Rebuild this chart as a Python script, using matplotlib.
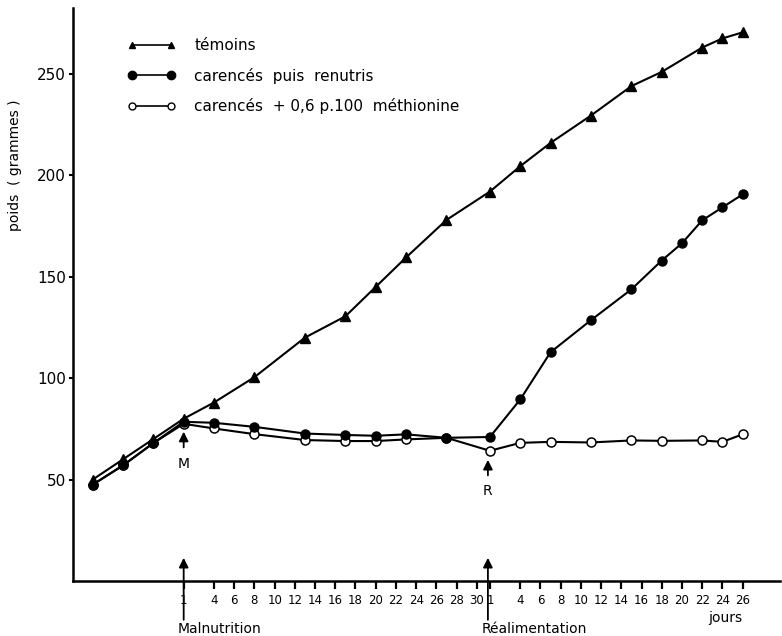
import matplotlib
matplotlib.use("Agg")
import matplotlib.pyplot as plt
from matplotlib.lines import Line2D

# days: before malnutrition, malnutrition period, refeeding period
pre_days = [-8, -5, -2]
mal_days = [1, 4, 8, 13, 17, 20, 23, 27]
ren_days_t = [1, 4, 7, 11, 15, 18, 22, 24, 26]
ren_days_c = [1, 4, 7, 11, 15, 18, 20, 22, 24, 26]
ren_days_m = [1, 4, 7, 11, 15, 18, 22, 24, 26]

# weights (grammes)
temoins_pre = [50, 60, 70]
temoins_mal = [80, 88, 100.5, 120, 130.5, 145, 159.5, 178]
temoins_ren = [192, 204.5, 216, 229.5, 244, 251, 263, 267.5, 270.5]

renutris_pre = [47.5, 57, 68]
renutris_mal = [78.5, 78, 76, 72.7, 72, 71.6, 72.3, 70.6]
renutris_ren = [71, 89.5, 112.8, 128.6, 143.8, 158, 166.5, 177.8, 184.2, 190.6]

methio_pre = [47.5, 57, 68]
methio_mal = [77.5, 75.2, 72.4, 69.5, 69, 69, 69.8, 70.6]
methio_ren = [64.2, 68.1, 68.6, 68.3, 69.3, 69.1, 69.3, 68.6, 72.3]

mal_ticks = [1] + list(range(4, 31, 2))
ren_ticks = [1] + list(range(4, 27, 2))
y_ticks = [50, 100, 150, 200, 250]

REN_OFFSET = 30.3  # refeeding day 1 sits just after malnutrition day 30


def pos(pre, mal, ren):
    return list(pre) + list(mal) + [d + REN_OFFSET for d in ren]


fig = plt.figure(figsize=(7.82, 6.36), dpi=100)
ax = fig.add_axes([73 / 782, 1 - 581 / 636, (780 - 73) / 782, 573 / 636])

lw = 1.5
# open circles
ax.plot(pos(pre_days, mal_days, ren_days_m), methio_pre + methio_mal + methio_ren,
        '-', color='k', lw=lw, marker='o', ms=6.5, mfc='white', mec='k', mew=1.1, zorder=2)
# filled circles
ax.plot(pos(pre_days, mal_days, ren_days_c), renutris_pre + renutris_mal + renutris_ren,
        '-', color='k', lw=lw, marker='o', ms=6.5, mfc='k', mec='k', zorder=3)
# triangles
ax.plot(pos(pre_days, mal_days, ren_days_t), temoins_pre + temoins_mal + temoins_ren,
        '-', color='k', lw=lw, marker='^', ms=7, mfc='k', mec='k', zorder=4)

ax.set_xlim(-9.95, 60)
ax.set_ylim(0, 282.5)

for s in ['top', 'right']:
    ax.spines[s].set_visible(False)
for s in ['left', 'bottom']:
    ax.spines[s].set_linewidth(1.8)

ax.set_yticks(y_ticks)
ax.set_yticklabels([str(v) for v in y_ticks], fontsize=11)
ax.tick_params(axis='y', direction='out', length=3, width=1.5, pad=2)

xt = mal_ticks + [d + REN_OFFSET for d in ren_ticks]
ax.set_xticks(xt)
ax.set_xticklabels([str(d) for d in mal_ticks + ren_ticks], fontsize=8.5)
ax.tick_params(axis='x', direction='out', length=6, width=1.6, pad=3)

# arrows on the time axis
arrow = dict(arrowstyle='-|>', color='k', lw=1.3, mutation_scale=14)
for p, lab in [(1.0, 'Malnutrition'), (31.1, 'Réalimentation')]:
    ax.annotate('', xy=(p, 12.8), xytext=(p, -20.5), arrowprops=arrow,
                annotation_clip=False)
    ax.text(p - 0.6, -23.5, lab, fontsize=10, ha='left', va='center', clip_on=False)
ax.text(54.6, -18.2, 'jours', fontsize=10, ha='center', va='center', clip_on=False)

# M and R markers on the curves
for p, y0, y1, lab, ylab in [(1.0, 64.5, 75, 'M', 57.6), (31.1, 50.7, 61.1, 'R', 44.3)]:
    ax.annotate('', xy=(p, y1), xytext=(p, y0), arrowprops=arrow)
    ax.text(p, ylab, lab, fontsize=10, ha='center', va='center')

fig.text(15 / 782, 1 - 165 / 636, 'poids  ( grammes )', rotation=90,
         fontsize=10, ha='center', va='center')

handles = [
    Line2D([], [], color='k', lw=1.2, marker='^', ms=5, mfc='k'),
    Line2D([], [], color='k', lw=1.2, marker='o', ms=6, mfc='k'),
    Line2D([], [], color='k', lw=1.2, marker='o', ms=5, mfc='white', mew=1),
]
labels = ['témoins', 'carencés  puis  renutris', 'carencés  + 0,6 p.100  méthionine']
ax.legend(handles, labels, loc='upper left', bbox_to_anchor=(127 / 782, 1 - 38 / 636),
          bbox_transform=fig.transFigure, frameon=False, numpoints=2,
          handlelength=3.2, handletextpad=1.2, labelspacing=0.95, fontsize=11,
          borderpad=0, borderaxespad=0)

fig.savefig('out.png', dpi=100)
